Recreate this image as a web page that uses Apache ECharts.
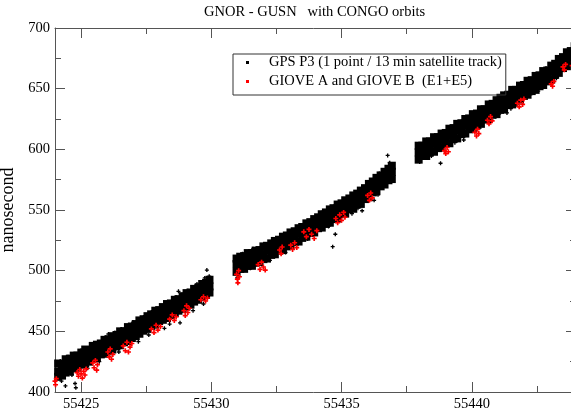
<!DOCTYPE html>
<html>
<head>
<meta charset="utf-8">
<script src="https://cdn.jsdelivr.net/npm/echarts@6/dist/echarts.min.js"></script>
<style>html,body{margin:0;padding:0;background:#fff}#c{width:571px;height:412px}</style>
</head>
<body>
<div id="c"></div>
<script>
// ---- data ----
const titleText = 'GNOR - GUSN   with CONGO orbits';
const yName = 'nanosecond';
const gpsName = 'GPS P3 (1 point / 13 min satellite track)';
const gioveName = 'GIOVE A and GIOVE B  (E1+E5)';
const xMajorTicks = [55425, 55430, 55435, 55440];
const xMinorTicks = [55427.5, 55432.5, 55437.5, 55442.5];

// segment 1 dense band
const xs1 = [55423.98,55424.12,55424.27,55424.41,55424.57,55424.72,55424.86,55425.01,55425.16,55425.31,55425.45,55425.61,55425.76,55425.9,55426.05,55426.2,55426.36,55426.5,55426.65,55426.8,55426.95,55427.1,55427.24,55427.4,55427.55,55427.69,55427.85,55428.0,55428.14,55428.3,55428.45,55428.6,55428.74,55428.9,55429.05,55429.2,55429.34,55429.5,55429.65,55429.8,55429.93];
const top1 = [421,423.5,423,427,427.5,430,430,432.5,435,434.5,438,439,440,443,443.5,446,447,450,450,453.5,454,456,459,460,462.5,464,467,467.5,470,472.5,473,476,476.5,479,481.5,482,485,486,489,490,492.5];
const mid1 = [416.5,417,419.5,420,423,423.5,426,427,428.5,431,431.5,434,435,437.5,438,440.5,442,444.5,445.5,447,450,451,453.5,455,457.5,458.5,461.5,463,464.5,467,468,470.5,472,473.5,475.5,478,479,481.5,483,485.5,487];
const bot1 = [410.5,412.5,413.5,416,417,419.5,420,422.5,423.5,425,427.5,428,431,431.5,433.5,435,437.5,438.5,441,442,444.5,446,448,450.5,452,454.5,455.5,458.5,459.5,461,463.5,465,467,468.5,470.5,472,474.5,476,478.5,480,482];

// segment 2 dense band
const xs2 = [55430.97,55431.11,55431.26,55431.4,55431.56,55431.7,55431.85,55432.0,55432.14,55432.3,55432.44,55432.6,55432.75,55432.9,55433.04,55433.2,55433.35,55433.49,55433.65,55433.8,55433.95,55434.1,55434.24,55434.4,55434.55,55434.69,55434.85,55435.0,55435.14,55435.3,55435.45,55435.6,55435.74,55435.9,55436.05,55436.2,55436.34,55436.5,55436.65,55436.8,55436.93];
const top2 = [510,511.5,512,514.5,514.5,516.5,517,520,520.5,522.5,524.5,525.5,528,529,531.5,532.5,535,536,539,540,542.5,544,546.5,548,550.5,551.5,554.5,555.5,558,559.5,562,563.5,566,568,571.5,573.5,576.5,578.5,581.5,584,586.5];
const mid2 = [505.5,505,508,508,510.5,510.5,513,513.5,516.5,517,519.5,520.5,523,524,526.5,527.5,530.5,531,534,535,538,538.5,541.5,542.5,545.5,546.5,549.5,550.5,553,554.5,557,558,561,563,566.5,568,571.5,573.5,577,578.5,581.5];
const bot2 = [499,501.5,501.5,504,504,506.5,507,509.5,510,513,513.5,516.5,517,520,520.5,523.5,524,527,528,531,531.5,535,535.5,538.5,539.5,542.5,543,546.5,547,550.5,551,554.5,555,559,560.5,564.5,565.5,569.5,571,574.5,575.5];

// segment 3 dense band
const xs3 = [55437.96,55438.1,55438.25,55438.39,55438.55,55438.7,55438.84,55439.0,55439.14,55439.3,55439.44,55439.6,55439.75,55439.9,55440.04,55440.2,55440.35,55440.49,55440.65,55440.8,55440.95,55441.1,55441.24,55441.4,55441.55,55441.69,55441.85,55442.0,55442.14,55442.3,55442.45,55442.6,55442.74,55442.9,55443.05,55443.2,55443.34,55443.5,55443.65,55443.8,55443.95];
const top3 = [603,603,606.5,606.5,610,610,613,613.5,617,617.5,621,621.5,625,625.5,629,629.5,633,633,637,637.5,640.5,642.5,644.5,645,649,649,652.5,653,656.5,657,660.5,661,664.5,665,669,670.5,674.5,676,680,681,685];
const mid3 = [597.5,598,601,601.5,604.5,605,608,608.5,611.5,612.5,615.5,616.5,619.5,620.5,623.5,624.5,627.5,628,631.5,632,635.5,636.5,639,640,643.5,644,647,648,651,652,655,656,659,660,664,665.5,669,671,674.5,676,679.5];
const bot3 = [591.5,594.5,594.5,597.5,598,601,601.5,605,605,608.5,609,612.5,613,616.5,617,620.5,621,624.5,625,628.5,629,632.5,633,636.5,637,640,641,644,645,648,649,652,653,656,657.5,661.5,663,667,668.5,672,673.5];

// GPS scattered edge points and outliers
const gpsEdge1 = [[55424.2,425.5],[55424.5,429],[55425.0,434.5],[55425.4,438.5],[55425.95,445],[55426.3,449],[55426.55,452],[55427.0,457.5],[55427.45,463],[55427.75,467],[55428.35,473.5],[55428.65,478],[55429.1,483.5],[55429.45,489],[55429.75,494],[55429.92,495.5],[55424.25,409],[55424.65,414],[55425.25,419.5],[55425.7,425],[55426.45,433],[55427.2,441.5],[55427.6,447],[55428.4,456],[55429.3,467],[55429.7,472.5],[55424.77,407],[55424.8,403.5],[55424.4,405],[55426.05,447.8],[55428.74,483],[55428.8,457],[55429.83,500.5],[55428.2,452.5]];
const gpsEdge2 = [[55431.2,514],[55431.6,518],[55432.1,521.5],[55432.5,527],[55433.0,532],[55433.4,537],[55433.9,543.5],[55434.3,549],[55434.75,554],[55435.2,560],[55435.65,566],[55436.1,574],[55436.45,580],[55436.85,589],[55431.5,502],[55432.25,508.5],[55432.85,515],[55433.7,526],[55434.5,536.5],[55435.4,547],[55436.4,562.5],[55436.77,595],[55434.76,530],[55434.66,519.8],[55435.63,551.5],[55435.79,549.4],[55430.99,494],[55436.25,558]];
const gpsEdge3 = [[55438.2,606],[55438.6,611],[55439.2,618],[55439.65,624],[55440.1,630],[55440.6,636],[55441.0,641.5],[55441.45,647.5],[55441.9,653],[55442.4,660],[55442.85,667],[55443.3,674.5],[55443.7,681],[55443.9,686],[55438.0,589.5],[55438.45,594.5],[55439.35,605.5],[55440.3,617.5],[55441.7,636.5],[55442.55,648],[55443.25,658.5],[55438.8,588.5],[55439.69,607.7],[55440.75,624.5],[55440.9,627],[55441.05,629],[55441.2,631.5],[55441.35,630],[55441.5,633.5],[55442.3,646]];

// GIOVE (red) clusters
const giove1 = [[55423.98,412],[55424.0,409],[55424.02,406],[55424.05,411],[55424.85,416],[55424.9,413],[55424.95,418.5],[55425.0,415],[55425.05,411.5],[55425.1,417],[55425.15,414],[55425.2,419],[55425.45,424],[55425.5,420],[55425.55,426],[55425.6,418],[55425.63,422.5],[55426.03,433],[55426.08,429],[55426.12,435.5],[55426.17,427],[55426.22,431],[55426.62,438],[55426.7,434],[55426.76,441],[55426.82,433],[55426.88,437],[55426.95,440],[55427.7,452],[55427.8,449],[55427.88,455],[55427.95,451],[55428.05,454],[55428.4,460],[55428.5,463.5],[55428.58,459],[55428.65,462],[55428.95,467],[55429.0,463],[55429.05,471],[55429.1,465.5],[55429.15,469],[55429.6,476],[55429.7,478.5],[55429.78,475],[55429.85,477.5]];
const giove2 = [[55430.97,497],[55431.0,493],[55431.02,490],[55431.05,500],[55431.08,495],[55431.8,505],[55431.87,501],[55431.93,507],[55432.0,503],[55432.07,500.5],[55432.62,517],[55432.68,514],[55432.72,519.5],[55433.05,521],[55433.12,517.5],[55433.2,523],[55433.28,519],[55433.55,532],[55433.65,528],[55433.75,534],[55433.85,530],[55433.95,526.5],[55434.05,533],[55434.78,543],[55434.85,539.5],[55434.93,546],[55435.0,541.5],[55435.08,548],[55435.13,544],[55436.0,562],[55436.07,558],[55436.12,564],[55436.18,560]];
const giove3 = [[55438.95,599],[55439.0,596.5],[55439.05,601.5],[55439.1,598],[55440.12,614],[55440.18,611],[55440.22,616.5],[55440.27,613],[55440.6,624],[55440.66,621],[55440.72,627],[55440.78,623.5],[55441.75,638],[55441.82,635],[55441.88,640.5],[55441.95,637],[55442.0,641.5],[55443.05,654],[55443.1,652],[55443.15,656],[55443.5,668],[55443.55,665.5],[55443.6,670],[55443.85,669],[55443.9,672],[55443.95,667]];

// ---- build series data ----
function rows(xs, ys) { return xs.map((x, i) => [x, ys[i]]); }
const gpsCore = [].concat(
  rows(xs1, top1), rows(xs1, mid1), rows(xs1, bot1),
  rows(xs2, top2), rows(xs2, mid2), rows(xs2, bot2),
  rows(xs3, top3), rows(xs3, mid3), rows(xs3, bot3));
const gpsEdge = [].concat(gpsEdge1, gpsEdge2, gpsEdge3);
const gioveAll = [].concat(giove1, giove2, giove3);

const FONT = 'Liberation Serif';
const AX = '#555';
const plus = 'path://M1,0H2V1H3V2H2V3H1V2H0V1H1Z';
const plain = v => String(v);

function xAx(pos, ticks, len, showLine, showLabel) {
  return {
    type: 'value', position: pos, min: 55424, max: 55444,
    axisLine: { show: showLine, onZero: false, lineStyle: { color: AX, width: 1 } },
    axisTick: { show: true, inside: true, length: len, customValues: ticks, lineStyle: { color: AX, width: 1 } },
    axisLabel: { show: showLabel, customValues: ticks, formatter: plain, margin: 5, color: '#000', fontFamily: FONT, fontSize: 14.5 },
    splitLine: { show: false }
  };
}
function yAx(pos, showLabel, name) {
  return {
    type: 'value', position: pos, min: 400, max: 700, interval: 50,
    name: name || '', nameLocation: 'middle', nameGap: 27,
    nameTextStyle: { fontFamily: FONT, fontSize: 18, color: '#000' },
    axisLine: { show: true, lineStyle: { color: AX, width: 1 } },
    axisTick: { show: true, inside: true, length: 10, lineStyle: { color: AX, width: 1 } },
    minorTick: { show: true, splitNumber: 2, length: 6, lineStyle: { color: AX, width: 1 } },
    axisLabel: { show: showLabel, formatter: plain, margin: 5, color: '#000', fontFamily: FONT, fontSize: 14.5 },
    splitLine: { show: false }, minorSplitLine: { show: false }
  };
}

const chart = echarts.init(document.getElementById('c'), null, { renderer: 'canvas' });
chart.setOption({
  animation: false,
  backgroundColor: '#fff',
  title: {
    text: titleText, left: 204, top: 5, padding: 0,
    textStyle: { fontFamily: FONT, fontSize: 14.5, fontWeight: 'normal', color: '#000' }
  },
  legend: {
    orient: 'vertical', left: 233, top: 54,
    data: [gpsName, gioveName],
    icon: 'rect', itemWidth: 3, itemHeight: 3, itemGap: 4,
    borderColor: '#333', borderWidth: 1, borderRadius: 0,
    padding: [1, 4, 6, 13],
    selectedMode: false,
    textStyle: { fontFamily: FONT, fontSize: 14.5, color: '#000', lineHeight: 15, padding: [0, 0, 0, 15] }
  },
  grid: { left: 55, right: -5, top: 28, bottom: 20, containLabel: false, outerBoundsMode: 'none' },
  xAxis: [
    xAx('bottom', xMajorTicks, 10, true, true),
    xAx('bottom', xMinorTicks, 6, false, false),
    xAx('top', xMajorTicks, 10, true, false),
    xAx('top', xMinorTicks, 6, false, false)
  ],
  yAxis: [yAx('left', true, yName), yAx('right', false)],
  series: [
    { name: gpsName, type: 'scatter', xAxisIndex: 0, yAxisIndex: 0, data: gpsCore,
      symbol: 'rect', symbolSize: 8, itemStyle: { color: '#000', opacity: 1 }, silent: true, z: 2 },
    { name: gpsName, type: 'scatter', xAxisIndex: 0, yAxisIndex: 0, data: gpsEdge,
      symbol: plus, symbolSize: 4, itemStyle: { color: '#000', opacity: 1 }, silent: true, z: 3 },
    { name: gioveName, type: 'scatter', xAxisIndex: 0, yAxisIndex: 0, data: gioveAll,
      symbol: plus, symbolSize: 5, itemStyle: { color: '#ff0000', opacity: 1 }, silent: true, z: 4 }
  ]
});
</script>
</body>
</html>
